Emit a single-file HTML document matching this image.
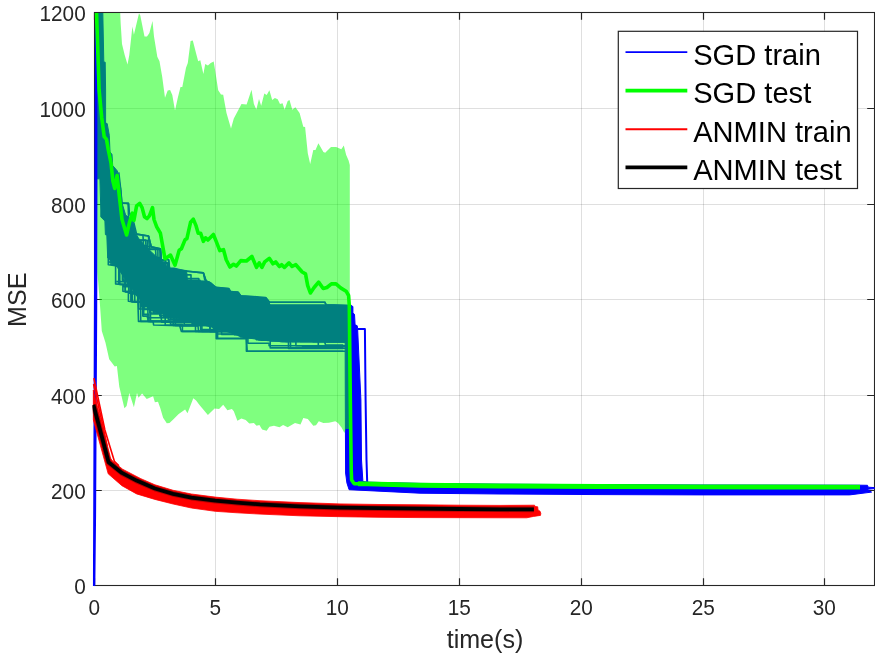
<!DOCTYPE html>
<html lang="en">
<head>
<meta charset="utf-8">
<title>MSE vs time(s)</title>
<style>
html,body{margin:0;padding:0;background:#ffffff;}
body{width:875px;height:656px;overflow:hidden;}
svg{display:block;}
</style>
</head>
<body>
<svg width="875" height="656" viewBox="0 0 875 656">
<rect x="0" y="0" width="875" height="656" fill="#ffffff"/>
<path d="M215.5 12.5 V585.5 M337.5 12.5 V585.5 M459.5 12.5 V585.5 M581.5 12.5 V585.5 M703.5 12.5 V585.5 M824.5 12.5 V585.5 M94.5 490.5 H874.5 M94.5 395.5 H874.5 M94.5 299.5 H874.5 M94.5 204.5 H874.5 M94.5 108.5 H874.5" stroke="#262626" stroke-opacity="0.15" stroke-width="1" fill="none"/>
<rect x="94.5" y="12.5" width="780.0" height="573.0" fill="none" stroke="#262626" stroke-width="1.1"/>
<path d="M94.5 585.5 v-7.3 M94.5 12.5 v7.3 M215.5 585.5 v-7.3 M215.5 12.5 v7.3 M337.5 585.5 v-7.3 M337.5 12.5 v7.3 M459.5 585.5 v-7.3 M459.5 12.5 v7.3 M581.5 585.5 v-7.3 M581.5 12.5 v7.3 M703.5 585.5 v-7.3 M703.5 12.5 v7.3 M824.5 585.5 v-7.3 M824.5 12.5 v7.3 M94.5 585.5 h7.3 M874.5 585.5 h-7.3 M94.5 490.5 h7.3 M874.5 490.5 h-7.3 M94.5 395.5 h7.3 M874.5 395.5 h-7.3 M94.5 299.5 h7.3 M874.5 299.5 h-7.3 M94.5 204.5 h7.3 M874.5 204.5 h-7.3 M94.5 108.5 h7.3 M874.5 108.5 h-7.3 M94.5 12.5 h7.3 M874.5 12.5 h-7.3" stroke="#262626" stroke-width="1.2" fill="none"/>
<defs><clipPath id="ax"><rect x="92.5" y="13.0" width="782.6" height="573.1"/></clipPath></defs>
<g clip-path="url(#ax)">
<g fill="none" stroke="#0000ff" stroke-width="1.6" stroke-linejoin="round">
<path d="M98.3 12.4 L102.8 12.4 L103.8 62.0 L105.2 62.2 L105.6 90.0 L105.6 123.0 L107.2 123.6 L109.3 135.3 L110.0 151.8 L112.0 154.5 L112.7 165.5 L116.8 170.3 L117.4 171.0 L121.0 189.3 L122.0 203.0 L125.6 214.9 L132.0 220.4 L135.7 233.2 L138.4 238.0 L146.0 247.0 L154.9 255.2 L162.2 262.5 L169.1 268.3 L186.7 270.6 L187.4 280.5 L205.0 281.0 L210.3 282.3 L213.3 286.6 L228.6 288.4 L230.1 291.1 L238.5 292.1 L240.7 295.7 L250.0 296.5 L265.6 298.2 L270.5 304.8 L325.0 304.8 L326.0 305.3 L347.9 305.6 L351.2 305.6 L351.2 341.6 L343.0 341.6 L268.4 340.8 L243.7 337.4 L230.0 332.6 L214.3 327.8 L177.8 318.6 L150.3 310.4 L135.7 294.9 L117.4 267.4 L107.7 258.0 L106.8 235.2 L105.4 234.7 L104.9 221.0 L100.8 216.9 L100.8 210.0 L99.9 178.8 L97.3 178.8 L96.8 100.0 L96.5 12.4 Z" fill="#0000ff" stroke-width="1"/>
<path d="M345.0 305.6 L351.2 305.6 L352.9 306.5 L352.9 312.9 L354.5 314.3 L355.1 324.8 L357.2 325.7 L357.6 328.4 L360.9 400.0 L361.5 460.0 L362.9 481.5 L368.0 482.2 L420.0 483.4 L500.0 484.2 L600.0 484.7 L700.0 485.0 L860.0 485.2 L867.5 485.3 L868.2 487.2 L874.4 487.6 L874.4 488.6 L867.0 489.3 L871.6 492.1 L849.7 494.9 L700.0 494.9 L600.0 494.6 L500.0 494.0 L420.0 493.2 L349.1 489.7 L346.9 482.9 L345.6 473.0 L345.3 400.0 L345.0 305.6 Z" fill="#0000ff" stroke-width="1"/>
<path d="M113.5 195.4 L118.5 195.4 L118.5 250.5 L134.7 250.5 L134.7 260.0 L137.4 260.0 L137.4 260.7 L142.1 260.7 L142.1 303.9 L205.2 303.9 L205.2 317.1 L249.3 317.1 L249.3 317.1 L276.0 317.1 L276.0 329.6 L280.5 329.6 L280.5 329.6 L290.8 329.6 L290.8 329.6 L311.9 329.6 L311.9 329.6 L316.7 329.6 L316.7 329.6 L323.0 329.6 L323.0 329.6 L327.2 329.6 L327.2 329.6 L345.5 329.6"/>
<path d="M111.9 210.6 L120.7 210.6 L120.7 270.7 L168.4 270.7 L168.4 290.2 L193.3 290.2 L193.3 311.1 L206.6 311.1 L206.6 311.1 L210.7 311.1 L210.7 311.1 L218.6 311.1 L218.6 311.1 L224.1 311.1 L224.1 315.8 L250.5 315.8 L250.5 315.8 L260.1 315.8 L260.1 317.1 L277.1 317.1 L277.1 317.1 L317.6 317.1 L317.6 317.1 L346.0 317.1"/>
<path d="M116.2 281.6 L173.6 281.6 L173.6 322.5 L208.7 322.5 L208.7 322.5 L216.8 322.5 L216.8 322.5 L219.9 322.5 L219.9 322.5 L251.8 322.5 L251.8 325.4 L311.7 325.4 L311.7 338.4 L328.3 338.4 L328.3 338.4 L346.0 338.4"/>
<path d="M113.8 252.2 L135.6 252.2 L135.6 290.1 L140.7 290.1 L140.7 303.8 L144.6 303.8 L144.6 303.8 L153.7 303.8 L153.7 313.0 L176.1 313.0 L176.1 313.0 L184.2 313.0 L184.2 324.6 L212.3 324.6 L212.3 326.4 L233.4 326.4 L233.4 327.4 L302.0 327.4 L302.0 327.4 L316.7 327.4 L316.7 328.8 L346.0 328.8"/>
<path d="M109.2 251.9 L125.2 251.9 L125.2 291.6 L132.4 291.6 L132.4 301.7 L147.9 301.7 L147.9 321.4 L170.5 321.4 L170.5 324.2 L182.4 324.2 L182.4 331.4 L187.5 331.4 L187.5 331.4 L203.2 331.4 L203.2 331.4 L208.0 331.4 L208.0 331.4 L218.8 331.4 L218.8 331.4 L234.3 331.4 L234.3 334.6 L256.5 334.6 L256.5 335.8 L261.3 335.8 L261.3 340.3 L313.0 340.3 L313.0 341.8 L324.1 341.8 L324.1 341.9 L337.5 341.9 L337.5 342.0 L346.0 342.0"/>
<path d="M114.4 253.4 L123.1 253.4 L123.1 281.4 L172.8 281.4 L172.8 298.1 L186.9 298.1 L186.9 311.7 L191.9 311.7 L191.9 323.2 L199.9 323.2 L199.9 323.2 L219.9 323.2 L219.9 323.2 L234.9 323.2 L234.9 323.2 L239.7 323.2 L239.7 325.7 L248.1 325.7 L248.1 326.7 L279.9 326.7 L279.9 331.2 L314.9 331.2 L314.9 336.1 L346.0 336.1"/>
<path d="M112.1 253.8 L118.8 253.8 L118.8 284.3 L123.7 284.3 L123.7 286.8 L139.2 286.8 L139.2 294.9 L144.0 294.9 L144.0 309.4 L148.3 309.4 L148.3 309.4 L168.2 309.4 L168.2 319.2 L232.8 319.2 L232.8 328.1 L240.8 328.1 L240.8 336.9 L243.3 336.9 L243.3 336.9 L270.6 336.9 L270.6 340.2 L277.2 340.2 L277.2 340.2 L346.0 340.2"/>
<path d="M114.4 219.7 L123.3 219.7 L123.3 237.8 L127.8 237.8 L127.8 259.5 L145.9 259.5 L145.9 292.1 L169.3 292.1 L169.3 292.1 L186.9 292.1 L186.9 292.1 L202.3 292.1 L202.3 302.7 L209.9 302.7 L209.9 302.7 L215.1 302.7 L215.1 302.7 L242.9 302.7 L242.9 313.9 L283.5 313.9 L283.5 321.9 L346.0 321.9"/>
<path d="M108.6 178.1 L112.7 178.1 L112.7 249.4 L160.0 249.4 L160.0 274.9 L172.0 274.9 L172.0 274.9 L191.0 274.9 L191.0 292.6 L216.7 292.6 L216.7 301.6 L224.8 301.6 L224.8 306.1 L239.5 306.1 L239.5 306.1 L248.4 306.1 L248.4 306.1 L252.0 306.1 L252.0 306.1 L283.7 306.1 L283.7 306.1 L317.4 306.1 L317.4 314.7 L346.0 314.7"/>
<path d="M115.4 259.3 L127.8 259.3 L127.8 269.3 L148.7 269.3 L148.7 301.3 L199.3 301.3 L199.3 317.8 L221.7 317.8 L221.7 322.4 L233.8 322.4 L233.8 326.3 L269.5 326.3 L269.5 328.4 L284.7 328.4 L284.7 333.7 L295.9 333.7 L295.9 345.7 L298.6 345.7 L298.6 345.7 L308.3 345.7 L308.3 345.7 L317.3 345.7 L317.3 345.7 L323.0 345.7 L323.0 345.7 L343.5 345.7 L343.5 345.7 L346.0 345.7"/>
<path d="M110.9 233.8 L118.0 233.8 L118.0 259.5 L139.1 259.5 L139.1 296.5 L143.5 296.5 L143.5 296.5 L147.9 296.5 L147.9 296.5 L162.1 296.5 L162.1 300.6 L177.4 300.6 L177.4 300.6 L189.5 300.6 L189.5 307.3 L221.1 307.3 L221.1 308.2 L226.8 308.2 L226.8 316.9 L238.9 316.9 L238.9 320.0 L244.7 320.0 L244.7 326.2 L250.4 326.2 L250.4 326.2 L257.4 326.2 L257.4 326.2 L283.4 326.2 L283.4 326.2 L296.1 326.2 L296.1 326.2 L346.0 326.2"/>
<path d="M111.4 241.0 L132.6 241.0 L132.6 281.9 L138.7 281.9 L138.7 293.0 L186.0 293.0 L186.0 314.3 L201.3 314.3 L201.3 314.3 L203.9 314.3 L203.9 314.3 L214.3 314.3 L214.3 322.1 L265.2 322.1 L265.2 326.1 L320.3 326.1 L320.3 326.1 L346.0 326.1"/>
<path d="M110.4 219.1 L125.6 219.1 L125.6 243.9 L130.0 243.9 L130.0 243.9 L136.2 243.9 L136.2 245.7 L146.8 245.7 L146.8 281.7 L177.3 281.7 L177.3 290.1 L180.0 290.1 L180.0 290.1 L186.4 290.1 L186.4 290.1 L189.7 290.1 L189.7 290.1 L194.0 290.1 L194.0 307.7 L237.5 307.7 L237.5 309.1 L315.7 309.1 L315.7 313.9 L328.6 313.9 L328.6 316.3 L341.6 316.3 L341.6 317.5 L346.0 317.5"/>
<path d="M113.9 246.5 L131.7 246.5 L131.7 286.4 L158.1 286.4 L158.1 300.5 L163.1 300.5 L163.1 311.0 L209.0 311.0 L209.0 311.0 L213.6 311.0 L213.6 311.8 L249.2 311.8 L249.2 317.6 L306.8 317.6 L306.8 328.5 L311.3 328.5 L311.3 328.5 L324.2 328.5 L324.2 328.5 L329.0 328.5 L329.0 328.5 L345.9 328.5"/>
<path d="M114.8 264.9 L163.5 264.9 L163.5 316.2 L169.0 316.2 L169.0 316.2 L184.9 316.2 L184.9 316.8 L206.2 316.8 L206.2 324.2 L210.6 324.2 L210.6 324.2 L214.9 324.2 L214.9 324.2 L262.7 324.2 L262.7 332.4 L280.3 332.4 L280.3 336.0 L293.4 336.0 L293.4 336.0 L324.3 336.0 L324.3 336.0 L346.0 336.0"/>
<path d="M115.4 223.3 L121.4 223.3 L121.4 252.9 L131.2 252.9 L131.2 294.0 L191.5 294.0 L191.5 314.6 L201.5 314.6 L201.5 314.6 L206.2 314.6 L206.2 321.9 L246.9 321.9 L246.9 327.3 L254.5 327.3 L254.5 332.9 L268.9 332.9 L268.9 336.5 L275.9 336.5 L275.9 336.5 L285.8 336.5 L285.8 336.5 L304.1 336.5 L304.1 336.5 L332.6 336.5 L332.6 336.5 L340.3 336.5 L340.3 336.8 L346.0 336.8"/>
<path d="M114.0 240.4 L147.3 240.4 L147.3 280.7 L161.9 280.7 L161.9 280.7 L165.4 280.7 L165.4 280.7 L179.5 280.7 L179.5 280.7 L184.6 280.7 L184.6 280.7 L190.2 280.7 L190.2 298.3 L211.5 298.3 L211.5 312.6 L293.4 312.6 L293.4 312.6 L346.0 312.6"/>
<path d="M109.9 264.1 L112.5 264.1 L112.5 264.1 L130.0 264.1 L130.0 292.7 L179.7 292.7 L179.7 320.0 L197.2 320.0 L197.2 321.6 L206.3 321.6 L206.3 324.8 L261.6 324.8 L261.6 336.4 L293.2 336.4 L293.2 336.4 L329.8 336.4 L329.8 338.3 L334.4 338.3 L334.4 338.3 L346.0 338.3"/>
<path d="M111.9 249.3 L119.2 249.3 L119.2 265.1 L125.3 265.1 L125.3 291.6 L131.5 291.6 L131.5 301.6 L140.7 301.6 L140.7 321.4 L155.2 321.4 L155.2 321.4 L161.5 321.4 L161.5 322.2 L165.5 322.2 L165.5 322.2 L173.2 322.2 L173.2 325.5 L222.5 325.5 L222.5 325.5 L225.8 325.5 L225.8 328.2 L243.6 328.2 L243.6 337.9 L257.7 337.9 L257.7 337.9 L260.5 337.9 L260.5 337.9 L339.5 337.9 L339.5 337.9 L346.0 337.9"/>
<path d="M112.5 259.2 L134.6 259.2 L134.6 288.8 L137.7 288.8 L137.7 302.2 L165.2 302.2 L165.2 325.3 L209.9 325.3 L209.9 331.4 L220.6 331.4 L220.6 331.4 L225.5 331.4 L225.5 331.4 L229.9 331.4 L229.9 331.4 L237.6 331.4 L237.6 331.4 L256.2 331.4 L256.2 339.6 L259.6 339.6 L259.6 339.6 L265.9 339.6 L265.9 339.6 L280.9 339.6 L280.9 339.6 L294.1 339.6 L294.1 339.6 L346.0 339.6"/>
<path d="M116.0 258.1 L160.8 258.1 L160.8 285.3 L167.8 285.3 L167.8 285.3 L178.4 285.3 L178.4 285.3 L199.8 285.3 L199.8 298.8 L204.5 298.8 L204.5 298.8 L217.1 298.8 L217.1 313.3 L267.1 313.3 L267.1 322.2 L270.2 322.2 L270.2 322.2 L283.5 322.2 L283.5 322.2 L295.9 322.2 L295.9 322.2 L303.5 322.2 L303.5 322.2 L322.2 322.2 L322.2 322.2 L343.5 322.2 L343.5 322.2 L346.0 322.2"/>
<path d="M109.4 183.8 L114.1 183.8 L114.1 245.3 L135.2 245.3 L135.2 265.6 L162.8 265.6 L162.8 273.3 L168.9 273.3 L168.9 278.6 L198.8 278.6 L198.8 311.6 L246.0 311.6 L246.0 311.6 L256.5 311.6 L256.5 311.6 L259.8 311.6 L259.8 314.7 L264.0 314.7 L264.0 318.8 L278.2 318.8 L278.2 318.8 L346.0 318.8"/>
<path d="M112.6 247.0 L124.7 247.0 L124.7 273.5 L134.7 273.5 L134.7 293.9 L200.7 293.9 L200.7 311.5 L210.8 311.5 L210.8 324.9 L214.0 324.9 L214.0 324.9 L235.8 324.9 L235.8 332.7 L251.6 332.7 L251.6 335.2 L285.8 335.2 L285.8 341.4 L290.5 341.4 L290.5 348.3 L346.0 348.3"/>
<path d="M112.1 224.2 L133.9 224.2 L133.9 248.5 L148.6 248.5 L148.6 249.0 L157.9 249.0 L157.9 293.6 L238.6 293.6 L238.6 306.2 L287.4 306.2 L287.4 306.2 L301.5 306.2 L301.5 306.2 L346.0 306.2"/>
<path d="M110.3 194.3 L114.8 194.3 L114.8 248.4 L136.3 248.4 L136.3 248.4 L141.8 248.4 L141.8 256.8 L144.9 256.8 L144.9 280.2 L200.0 280.2 L200.0 297.9 L206.5 297.9 L206.5 304.0 L238.1 304.0 L238.1 307.1 L306.0 307.1 L306.0 312.8 L346.0 312.8"/>
<path d="M110.4 218.9 L123.1 218.9 L123.1 251.2 L128.9 251.2 L128.9 251.2 L135.0 251.2 L135.0 251.7 L142.0 251.7 L142.0 288.0 L182.8 288.0 L182.8 292.0 L185.5 292.0 L185.5 305.5 L232.6 305.5 L232.6 305.5 L239.6 305.5 L239.6 312.1 L242.2 312.1 L242.2 320.9 L306.2 320.9 L306.2 320.9 L317.3 320.9 L317.3 322.5 L337.5 322.5 L337.5 322.5 L340.2 322.5 L340.2 322.5 L346.0 322.5"/>
<path d="M116.3 235.2 L120.6 235.2 L120.6 252.4 L129.4 252.4 L129.4 255.8 L147.7 255.8 L147.7 265.5 L154.9 265.5 L154.9 282.9 L171.6 282.9 L171.6 296.9 L176.5 296.9 L176.5 296.9 L184.3 296.9 L184.3 296.9 L190.7 296.9 L190.7 296.9 L203.2 296.9 L203.2 304.2 L206.6 304.2 L206.6 304.2 L216.8 304.2 L216.8 316.2 L300.7 316.2 L300.7 321.6 L307.1 321.6 L307.1 321.6 L310.9 321.6 L310.9 321.6 L315.9 321.6 L315.9 321.6 L326.5 321.6 L326.5 321.6 L329.1 321.6 L329.1 321.6 L346.0 321.6"/>
<path d="M112.3 223.5 L118.5 223.5 L118.5 246.4 L127.9 246.4 L127.9 281.0 L147.1 281.0 L147.1 298.7 L192.6 298.7 L192.6 312.6 L198.1 312.6 L198.1 316.3 L202.5 316.3 L202.5 318.3 L207.7 318.3 L207.7 324.0 L286.5 324.0 L286.5 328.9 L333.2 328.9 L333.2 330.3 L346.0 330.3"/>
<path d="M115.8 242.5 L122.2 242.5 L122.2 268.9 L131.8 268.9 L131.8 278.3 L136.2 278.3 L136.2 294.6 L204.5 294.6 L204.5 316.3 L212.1 316.3 L212.1 322.6 L244.1 322.6 L244.1 326.8 L281.5 326.8 L281.5 331.1 L296.1 331.1 L296.1 331.1 L319.9 331.1 L319.9 334.2 L346.0 334.2"/>
<path d="M114.9 257.6 L159.5 257.6 L159.5 290.8 L162.1 290.8 L162.1 297.2 L169.5 297.2 L169.5 297.2 L197.6 297.2 L197.6 309.3 L202.3 309.3 L202.3 313.2 L272.9 313.2 L272.9 322.8 L333.1 322.8 L333.1 330.1 L346.0 330.1"/>
<path d="M114.8 265.5 L119.8 265.5 L119.8 284.4 L134.8 284.4 L134.8 301.9 L142.8 301.9 L142.8 316.1 L147.4 316.1 L147.4 317.8 L195.5 317.8 L195.5 331.4 L216.0 331.4 L216.0 331.4 L221.6 331.4 L221.6 331.4 L233.9 331.4 L233.9 332.5 L253.6 332.5 L253.6 333.5 L258.8 333.5 L258.8 340.0 L271.4 340.0 L271.4 340.0 L280.1 340.0 L280.1 341.4 L341.5 341.4 L341.5 341.4 L346.0 341.4"/>
<path d="M115.5 248.2 L130.8 248.2 L130.8 274.3 L149.9 274.3 L149.9 301.8 L172.1 301.8 L172.1 301.8 L181.6 301.8 L181.6 313.1 L186.8 313.1 L186.8 313.1 L190.2 313.1 L190.2 319.1 L202.4 319.1 L202.4 321.9 L236.0 321.9 L236.0 321.9 L260.0 321.9 L260.0 325.4 L265.9 325.4 L265.9 331.6 L282.0 331.6 L282.0 331.6 L289.0 331.6 L289.0 331.6 L291.4 331.6 L291.4 331.6 L300.7 331.6 L300.7 331.6 L320.2 331.6 L320.2 331.6 L337.9 331.6 L337.9 331.6 L346.0 331.6"/>
<path d="M109.5 244.0 L112.1 244.0 L112.1 264.6 L161.1 264.6 L161.1 312.5 L176.2 312.5 L176.2 322.1 L239.2 322.1 L239.2 336.0 L281.7 336.0 L281.7 336.0 L311.4 336.0 L311.4 340.3 L314.0 340.3 L314.0 340.3 L325.9 340.3 L325.9 341.7 L346.0 341.7"/>
<path d="M111.6 256.7 L138.8 256.7 L138.8 309.0 L176.1 309.0 L176.1 309.0 L197.2 309.0 L197.2 320.1 L202.8 320.1 L202.8 320.1 L221.6 320.1 L221.6 334.4 L278.5 334.4 L278.5 336.6 L283.3 336.6 L283.3 336.6 L293.1 336.6 L293.1 336.6 L318.3 336.6 L318.3 346.4 L346.0 346.4"/>
<path d="M113.4 255.8 L151.3 255.8 L151.3 284.9 L185.8 284.9 L185.8 292.8 L190.5 292.8 L190.5 292.8 L196.1 292.8 L196.1 297.9 L226.6 297.9 L226.6 306.6 L234.9 306.6 L234.9 318.4 L254.7 318.4 L254.7 329.0 L308.2 329.0 L308.2 329.0 L346.0 329.0"/>
<path d="M115.2 258.3 L137.0 258.3 L137.0 292.1 L150.5 292.1 L150.5 321.4 L167.1 321.4 L167.1 321.4 L171.5 321.4 L171.5 321.4 L205.1 321.4 L205.1 321.4 L213.2 321.4 L213.2 328.1 L221.3 328.1 L221.3 328.1 L247.4 328.1 L247.4 331.9 L311.8 331.9 L311.8 337.6 L346.0 337.6"/>
<path d="M114.3 263.3 L168.6 263.3 L168.6 299.2 L173.9 299.2 L173.9 320.5 L253.6 320.5 L253.6 329.9 L258.7 329.9 L258.7 329.9 L269.5 329.9 L269.5 329.9 L341.8 329.9 L341.8 329.9 L346.0 329.9"/>
<path d="M108.7 262.0 L162.4 262.0 L162.4 302.5 L187.4 302.5 L187.4 312.1 L217.3 312.1 L217.3 312.1 L221.1 312.1 L221.1 312.1 L231.9 312.1 L231.9 318.3 L251.2 318.3 L251.2 318.3 L255.4 318.3 L255.4 318.3 L265.1 318.3 L265.1 318.3 L337.1 318.3 L337.1 321.6 L346.0 321.6"/>
<path d="M112.3 255.4 L127.3 255.4 L127.3 283.5 L161.2 283.5 L161.2 309.8 L170.6 309.8 L170.6 319.2 L175.4 319.2 L175.4 325.5 L179.4 325.5 L179.4 325.5 L210.1 325.5 L210.1 331.4 L217.6 331.4 L217.6 338.2 L244.3 338.2 L244.3 338.2 L247.9 338.2 L247.9 343.2 L269.1 343.2 L269.1 345.8 L291.2 345.8 L291.2 345.8 L302.5 345.8 L302.5 346.4 L346.0 346.4"/>
<path d="M109.5 262.5 L167.2 262.5 L167.2 292.1 L175.2 292.1 L175.2 300.8 L223.6 300.8 L223.6 315.2 L234.3 315.2 L234.3 315.2 L241.3 315.2 L241.3 322.4 L311.1 322.4 L311.1 327.1 L319.3 327.1 L319.3 327.1 L346.0 327.1"/>
<path d="M109.8 260.9 L165.7 260.9 L165.7 282.4 L192.9 282.4 L192.9 292.3 L201.6 292.3 L201.6 292.3 L214.7 292.3 L214.7 305.2 L218.0 305.2 L218.0 305.2 L228.0 305.2 L228.0 306.7 L284.9 306.7 L284.9 306.7 L318.4 306.7 L318.4 312.8 L330.3 312.8 L330.3 319.6 L346.0 319.6"/>
<path d="M113.5 262.9 L160.4 262.9 L160.4 317.5 L227.2 317.5 L227.2 324.8 L235.3 324.8 L235.3 324.8 L250.4 324.8 L250.4 328.8 L277.5 328.8 L277.5 335.6 L332.7 335.6 L332.7 335.6 L338.3 335.6 L338.3 338.3 L346.0 338.3"/>
<path d="M115.3 251.2 L149.8 251.2 L149.8 313.0 L209.3 313.0 L209.3 313.0 L212.5 313.0 L212.5 323.6 L261.5 323.6 L261.5 330.3 L283.5 330.3 L283.5 330.3 L300.0 330.3 L300.0 330.4 L315.3 330.4 L315.3 330.4 L326.5 330.4 L326.5 330.4 L338.8 330.4 L338.8 333.6 L346.0 333.6"/>
<path d="M113.4 249.1 L122.4 249.1 L122.4 280.1 L125.1 280.1 L125.1 285.2 L171.4 285.2 L171.4 308.8 L179.0 308.8 L179.0 314.5 L200.6 314.5 L200.6 329.5 L210.4 329.5 L210.4 329.5 L222.7 329.5 L222.7 329.5 L262.0 329.5 L262.0 332.8 L268.8 332.8 L268.8 332.8 L277.6 332.8 L277.6 337.7 L322.0 337.7 L322.0 341.0 L346.0 341.0"/>
<path d="M114.5 262.1 L128.7 262.1 L128.7 293.3 L141.5 293.3 L141.5 306.7 L159.8 306.7 L159.8 315.7 L230.4 315.7 L230.4 322.5 L238.3 322.5 L238.3 330.5 L253.4 330.5 L253.4 330.5 L306.1 330.5 L306.1 330.5 L320.2 330.5 L320.2 332.3 L346.0 332.3"/>
<path d="M111.1 250.3 L126.4 250.3 L126.4 280.8 L130.9 280.8 L130.9 301.5 L135.1 301.5 L135.1 301.5 L143.7 301.5 L143.7 314.4 L149.0 314.4 L149.0 321.4 L167.4 321.4 L167.4 321.4 L201.9 321.4 L201.9 331.4 L232.7 331.4 L232.7 331.4 L239.7 331.4 L239.7 333.7 L244.4 333.7 L244.4 333.7 L248.6 333.7 L248.6 336.3 L257.4 336.3 L257.4 337.6 L273.6 337.6 L273.6 337.6 L281.7 337.6 L281.7 341.4 L289.0 341.4 L289.0 341.4 L291.9 341.4 L291.9 341.6 L333.9 341.6 L333.9 341.6 L346.0 341.6"/>
<path d="M108.3 240.0 L108.3 264.7 L115.6 265.6 L115.6 283.9 L122.9 284.8 L122.9 291.2 L128.4 292.1 L128.4 301.3 L137.9 302.2 L138.5 321.4 L153.1 321.4 L153.6 325.0 L179.6 325.6 L181.4 331.4 L216.2 331.4 L216.2 338.7 L246.3 338.7 L247.2 351.3 L343.3 351.3 L345.5 351.3"/>
<path d="M216.0 334.0 L246.4 334.0 L246.4 341.5 L246.4 351.2 L343.3 351.2"/>
<path d="M262.0 338.0 L270.2 338.0 L270.2 347.9 L343.3 347.9"/>
<path d="M270.0 341.0 L288.5 341.5 L288.5 348.5 L343.3 348.5"/>
<path d="M300.0 341.5 L324.5 341.5 L325.6 345.0 L343.3 345.0"/>
<path d="M180.0 326.0 L198.0 326.0 L198.5 331.4 L216.0 331.4"/>
<path d="M140.0 305.0 L150.0 305.5 L150.5 314.0 L161.0 314.0 L161.5 321.0 L179.0 321.5"/>
<path d="M118.8 172.4 L120.2 184.7 L122.0 203.0 L128.4 203.4 L129.3 212.2 L133.9 223.1 L136.6 234.1 L148.5 236.0 L151.3 246.9 L160.4 248.7 L161.3 259.7 L168.6 259.7 L169.5 268.3 L174.0 268.3 L185.0 271.0 L203.4 272.9 L206.1 281.1 L210.7 283.0 L216.2 287.9 L229.0 288.5 L230.8 292.1 L238.1 292.1 L240.8 295.8 L250.0 296.3 L265.6 297.6 L269.5 302.3 L325.0 302.3 L326.0 304.9 L347.9 305.5 L351.2 305.6"/>
<path d="M128.4 203.4 L128.8 216.0"/>
<path d="M148.5 236.0 L149.5 250.0"/>
<path d="M143.0 236.0 L143.5 245.0"/>
<path d="M160.4 248.7 L161.3 262.0"/>
<path d="M155.5 248.7 L156.0 257.0"/>
<path d="M168.6 259.7 L169.5 268.3"/>
<path d="M203.4 272.9 L204.9 280.5"/>
<path d="M122.0 203.0 L128.4 203.4 L128.6 230.0 L133.0 231.0"/>
<path d="M136.6 234.1 L148.5 236.0 L151.3 246.9 L160.4 248.7 L161.3 259.7"/>
<path d="M140.0 240.0 L145.5 240.0 L146.0 246.0 L151.0 247.0"/>
<path d="M203.4 272.9 L206.1 281.1 L210.7 283.0 L216.2 287.9"/>
<path d="M185.0 271.0 L203.4 272.9"/>
<path d="M265.6 297.6 L269.5 302.3 L325.0 302.3 L326.0 304.9 L347.9 305.5"/>
<path d="M357.4 328.9 L364.9 328.9 L365.6 400.0 L366.5 460.0 L367.2 482.5" stroke-width="2"/>
<path d="M92.9 586.0 L93.2 515.0 L93.9 315.0 L94.3 195.0 L95.0 12.0 L98.3 12.0 L97.6 195.0 L97.2 315.0 L96.1 515.0 L95.3 586.0 Z" fill="#0000ff" stroke="none"/>
</g>
<path d="M97.4 12.4 L120.2 12.4 L120.7 23.8 L122.0 43.9 L124.7 54.9 L127.5 64.4 L129.3 54.9 L132.4 26.5 L133.9 34.7 L139.0 13.2 L140.3 15.5 L144.5 36.6 L147.0 36.6 L149.4 32.9 L152.5 21.0 L154.0 36.6 L157.3 56.7 L159.5 61.3 L162.2 76.8 L165.0 97.8 L167.7 90.5 L170.1 90.0 L172.3 95.1 L175.0 110.6 L177.8 97.8 L180.5 86.9 L182.3 86.9 L186.0 67.7 L187.8 63.1 L190.6 41.1 L192.8 40.6 L196.0 53.0 L198.2 61.3 L200.3 60.3 L203.4 74.1 L205.2 64.0 L207.9 65.5 L210.7 63.1 L213.7 61.5 L215.5 72.8 L218.2 90.2 L221.0 94.4 L223.2 94.7 L226.5 113.0 L231.0 128.6 L233.8 118.5 L241.5 103.9 L246.6 104.4 L251.5 89.8 L253.9 103.9 L256.3 109.4 L259.0 98.9 L261.2 105.7 L264.3 93.5 L266.7 95.1 L269.4 90.2 L272.2 99.9 L274.9 98.0 L277.7 99.3 L280.0 103.9 L282.6 103.3 L284.6 109.7 L287.7 101.1 L289.5 99.9 L292.3 109.7 L295.4 107.2 L299.6 113.0 L303.3 126.7 L305.1 127.1 L307.8 153.3 L310.2 163.9 L313.3 150.0 L315.5 150.0 L318.4 143.2 L323.4 152.0 L325.2 152.7 L331.0 146.9 L336.2 146.9 L341.3 149.2 L343.8 145.4 L346.2 155.1 L348.6 160.6 L349.8 165.0 L349.8 429.1 L345.7 429.1 L344.4 433.1 L341.7 427.7 L338.0 423.1 L335.3 421.3 L328.9 422.7 L323.4 423.1 L318.8 421.3 L316.0 425.3 L313.3 425.8 L307.8 418.9 L303.3 418.1 L300.5 424.4 L295.0 423.1 L287.7 427.3 L283.1 424.9 L279.5 427.3 L274.0 425.8 L269.4 426.7 L266.7 430.8 L262.1 429.5 L259.4 424.9 L256.6 425.8 L253.9 423.1 L249.3 423.6 L245.7 420.0 L241.4 418.5 L237.4 420.7 L233.8 411.2 L231.9 409.0 L227.4 410.3 L223.2 404.8 L219.1 409.0 L214.6 408.5 L207.9 415.0 L199.7 405.3 L196.1 400.4 L193.3 398.2 L187.5 413.2 L185.1 409.5 L178.7 414.1 L173.2 419.6 L169.5 422.9 L166.8 423.3 L163.1 417.8 L160.4 408.6 L158.0 401.7 L154.9 402.2 L153.1 396.2 L146.7 399.1 L142.1 393.6 L138.5 397.7 L137.0 393.1 L133.9 407.3 L129.3 393.1 L126.6 405.9 L124.4 408.3 L119.3 386.7 L116.9 366.0 L114.7 366.6 L109.2 359.3 L105.5 342.8 L101.8 331.0 L99.7 301.2 L97.4 272.0 Z" fill="#00ff00" fill-opacity="0.5" stroke="none"/>
<path d="M96.2 4.0 L96.5 12.4 L99.1 90.0 L101.7 117.5 L104.2 136.7 L106.5 139.4 L108.3 150.0 L111.0 162.8 L112.9 181.1 L114.7 188.4 L117.1 175.6 L119.3 195.7 L122.0 219.5 L126.6 235.0 L129.3 223.1 L132.4 213.1 L133.9 220.4 L136.6 205.8 L139.7 203.4 L142.1 207.6 L144.5 216.7 L147.0 218.6 L149.4 215.8 L152.5 207.6 L154.0 219.5 L156.7 226.8 L160.4 233.2 L165.0 258.8 L170.5 255.1 L175.0 265.2 L179.2 250.2 L181.4 248.7 L185.1 239.6 L186.9 238.7 L190.6 222.2 L193.3 219.1 L196.1 225.9 L198.2 233.2 L200.6 233.2 L203.4 241.4 L205.6 237.8 L207.9 240.0 L213.4 234.5 L216.2 241.4 L219.8 250.6 L223.5 249.7 L226.2 259.7 L229.9 267.0 L233.5 264.3 L236.3 266.1 L240.8 260.6 L246.4 261.0 L251.9 256.5 L256.5 267.4 L259.2 262.9 L261.9 267.4 L264.7 261.9 L269.3 258.3 L272.9 263.8 L275.7 261.9 L279.3 266.5 L281.7 264.7 L284.4 267.4 L289.0 262.9 L292.1 266.5 L295.8 264.7 L302.2 272.0 L305.5 273.8 L307.7 285.7 L310.4 293.0 L314.1 287.5 L318.6 282.1 L323.2 288.5 L326.9 287.5 L331.4 283.9 L336.0 283.9 L340.6 287.9 L346.1 291.2 L348.6 295.5 L349.3 305.8 L350.3 400.0 L351.2 470.0 L351.6 480.0 L354.0 483.6 L367.0 483.9 L420.0 485.2 L500.0 486.0 L600.0 486.5 L700.0 486.9 L860.0 487.1" fill="none" stroke="#00ff00" stroke-width="3.6" stroke-linejoin="round" stroke-linecap="butt"/>
<path d="M358.0 483.8 L367.0 483.9 L420.0 485.2 L500.0 486.0 L600.0 486.5 L700.0 486.9 L860.0 487.1" fill="none" stroke="#00ff00" stroke-width="4.9" stroke-linejoin="round" stroke-linecap="butt"/>
<path d="M93.2 390.0 L96.3 402.0 L110.6 458.2 L112.5 460.9 L122.6 469.2 L140.9 478.7 L154.9 484.8 L173.1 490.3 L191.4 494.0 L215.2 497.1 L237.1 499.2 L260.0 500.7 L300.0 502.6 L340.0 503.9 L380.0 504.5 L420.0 504.8 L460.0 505.2 L500.0 505.4 L534.6 505.2 L535.0 506.5 L537.7 506.8 L538.0 509.9 L540.1 511.3 L540.8 513.3 L540.5 515.4 L533.6 516.4 L526.7 517.8 L500.0 517.8 L460.0 517.7 L420.0 517.6 L380.0 517.3 L340.0 516.7 L300.0 515.8 L260.0 514.1 L237.1 512.8 L215.2 511.3 L191.4 508.0 L173.1 504.0 L154.9 499.4 L136.6 493.9 L121.9 485.7 L108.2 473.8 L93.2 419.4 Z" fill="#ff0000" stroke="#ff0000" stroke-width="0.8" stroke-linejoin="round"/>
<path d="M93.9 378.2 L104.9 430.0 L110.5 448.5 L114.4 461.2 L119.0 465.8" fill="none" stroke="#ff0000" stroke-width="1.6" stroke-linejoin="round"/>
<path d="M93.5 384.0 L96.5 397.0 L102.5 424.0 L107.0 446.0" fill="none" stroke="#ff0000" stroke-width="1.6" stroke-linejoin="round"/>
<path d="M93.4 404.8 L108.6 462.2 L121.9 472.9 L136.6 480.6 L154.9 488.5 L173.1 493.9 L191.4 497.6 L215.2 500.7 L237.1 502.7 L260.0 504.4 L300.0 506.4 L340.0 507.6 L380.0 508.2 L420.0 508.6 L460.0 509.0 L500.0 509.3 L533.9 509.4" fill="none" stroke="#7a0000" stroke-width="5.6" stroke-linejoin="round" stroke-opacity="0.55"/>
<path d="M93.4 404.8 L108.6 462.2 L121.9 472.9 L136.6 480.6 L154.9 488.5 L173.1 493.9 L191.4 497.6 L215.2 500.7 L237.1 502.7 L260.0 504.4 L300.0 506.4 L340.0 507.6 L380.0 508.2 L420.0 508.6 L460.0 509.0 L500.0 509.3 L533.9 509.4" fill="none" stroke="#000000" stroke-width="3.8" stroke-linejoin="round"/>
</g>
<g font-family="'Liberation Sans', Arial, Helvetica, sans-serif" font-size="20.8" fill="#262626">
<text transform="translate(94.2 615.1) scale(1 1.05)" text-anchor="middle">0</text>
<text transform="translate(215.2 615.1) scale(1 1.05)" text-anchor="middle">5</text>
<text transform="translate(337.2 615.1) scale(1 1.05)" text-anchor="middle">10</text>
<text transform="translate(459.2 615.1) scale(1 1.05)" text-anchor="middle">15</text>
<text transform="translate(581.2 615.1) scale(1 1.05)" text-anchor="middle">20</text>
<text transform="translate(703.2 615.1) scale(1 1.05)" text-anchor="middle">25</text>
<text transform="translate(824.2 615.1) scale(1 1.05)" text-anchor="middle">30</text>
<text transform="translate(85.7 593.8) scale(1 1.05)" text-anchor="end">0</text>
<text transform="translate(85.7 498.8) scale(1 1.05)" text-anchor="end">200</text>
<text transform="translate(85.7 403.8) scale(1 1.05)" text-anchor="end">400</text>
<text transform="translate(85.7 307.8) scale(1 1.05)" text-anchor="end">600</text>
<text transform="translate(85.7 212.8) scale(1 1.05)" text-anchor="end">800</text>
<text transform="translate(85.7 116.8) scale(1 1.05)" text-anchor="end">1000</text>
<text transform="translate(85.7 20.8) scale(1 1.05)" text-anchor="end">1200</text>
</g>
<g font-family="'Liberation Sans', Arial, Helvetica, sans-serif" font-size="25.1" fill="#262626">
<text x="485.0" y="648.4" text-anchor="middle">time(s)</text>
<text transform="translate(26.0 299.8) rotate(-90)" text-anchor="middle">MSE</text>
</g>
<rect x="618.3" y="31.3" width="239.2" height="157.2" fill="#ffffff" stroke="#262626" stroke-width="1.2"/>
<g font-family="'Liberation Sans', Arial, Helvetica, sans-serif" font-size="29.1" fill="#000000">
<path d="M625.5 52.1 H687.3" stroke="#0000ff" stroke-width="1.9" fill="none"/>
<text x="693.2" y="64.5">SGD train</text>
<path d="M625.5 90.6 H687.3" stroke="#00ff00" stroke-width="3.8" fill="none"/>
<text x="693.2" y="103.0">SGD test</text>
<path d="M625.5 129.2 H687.3" stroke="#ff0000" stroke-width="1.9" fill="none"/>
<text x="693.2" y="141.6">ANMIN train</text>
<path d="M625.5 167.4 H687.3" stroke="#000000" stroke-width="3.8" fill="none"/>
<text x="693.2" y="179.8">ANMIN test</text>
</g>
</svg>
</body>
</html>
